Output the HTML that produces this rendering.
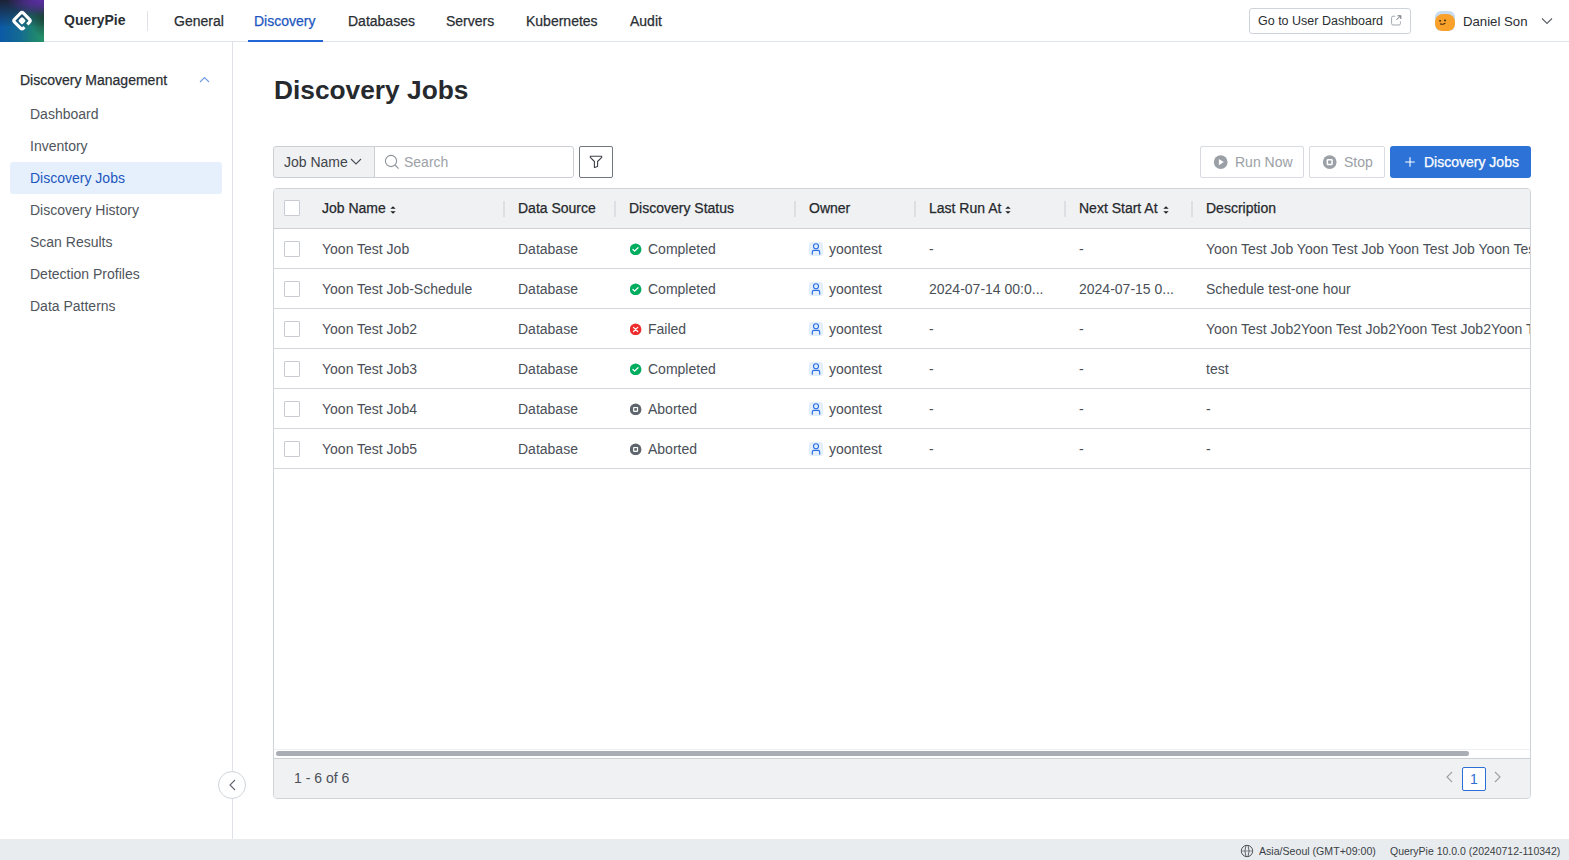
<!DOCTYPE html>
<html><head><meta charset="utf-8">
<style>
*{box-sizing:border-box;margin:0;padding:0}
html,body{width:1569px;height:860px;overflow:hidden;background:#fff;font-family:"Liberation Sans",sans-serif;font-size:14px;color:#2a2e33}
.abs{position:absolute}
.med{-webkit-text-stroke:0.25px currentColor}
#hdr{position:absolute;left:0;top:0;width:1569px;height:42px;border-bottom:1px solid #dfe4ea;background:#fff}
#logo{position:absolute;left:0;top:0;width:44px;height:42px;overflow:hidden;
 background:
  radial-gradient(ellipse 34px 16px at 40px 0px, rgba(92,46,165,1) 0%, rgba(92,46,165,0.7) 40%, rgba(92,46,165,0) 100%),
  radial-gradient(ellipse 16px 18px at 46px 20px, rgba(22,28,34,0.6) 0%, rgba(22,28,34,0) 100%),
  linear-gradient(to bottom, rgba(30,30,48,0.95) 0%, rgba(30,30,48,0.45) 35%, rgba(30,30,48,0) 65%),
  linear-gradient(to right, #0b59a6 0%, #136a92 45%, #1d8274 75%, #249368 100%)}
.nav{position:absolute;top:1px;height:41px;line-height:41px;font-size:14px;color:#2a2e33}
.nav.on{color:#1c57bf}
#uline{position:absolute;left:248px;top:40px;width:75px;height:2px;background:#2266d6}
#side{position:absolute;left:0;top:42px;width:233px;height:797px;border-right:1px solid #dfe3e8;background:#fff}
.si{position:absolute;left:10px;width:212px;height:32px;line-height:32px;padding-left:20px;color:#4f555c;border-radius:3px}
.si.on{background:#e6f0fc;color:#1c57bf}
#foot{position:absolute;left:0;top:839px;width:1569px;height:21px;background:#e9ecef;font-size:10.5px;color:#3a3f45}

.tbtn{position:absolute;top:146px;height:32px;border:1px solid #d8dbe0;border-radius:2px;background:#fff;color:#9ba0a6;line-height:30px}
#tbl{position:absolute;left:273px;top:188px;width:1258px;height:611px;border:1px solid #cfd4da;border-radius:4px;overflow:hidden;background:#fff}
#thead{position:absolute;left:0;top:0;width:1256px;height:40px;background:#f0f1f3;border-bottom:1px solid #cdd1d6}
.th{position:absolute;top:0;height:39px;line-height:39px;color:#26292d;white-space:nowrap}
.dv{position:absolute;top:12px;width:2px;height:16px;background:#dcdfe3}
.cb{position:absolute;left:10px;width:16px;height:16px;border:1px solid #c9cdd3;border-radius:1px;background:#fff}
.row{position:absolute;left:0;width:1256px;height:40px;border-bottom:1px solid #d5d9de}
.td{position:absolute;top:1px;height:39px;line-height:39px;color:#4a4f57;white-space:nowrap}
.sort{position:absolute;top:17px;width:6px;height:8px}
.st{position:absolute;top:14px;width:12px;height:12px}
.ow{position:absolute;left:535px;top:13px;width:14px;height:14px;border-radius:3px;background:#e3effd}
#tfoot{position:absolute;left:0;top:569px;width:1256px;height:40px;background:#f0f1f3;border-top:1px solid #cdd1d6}
</style></head>
<body>
<div id="hdr">
  <div id="logo">
    <svg width="44" height="41" viewBox="0 0 44 41" style="position:absolute;left:0;top:0"><g transform="rotate(45 22 20.7)"><path d="M28.3 19.5 L28.3 16.4 Q28.3 14.4 26.3 14.4 L17.7 14.4 Q15.7 14.4 15.7 16.4 L15.7 25 Q15.7 27 17.7 27 L26.3 27 Q28.3 27 28.3 25 L28.3 23.5" fill="none" stroke="#fff" stroke-width="3.1"/><rect x="19.15" y="17.85" width="5.7" height="5.7" rx="1.5" fill="#fff"/></g></svg>
  </div>
  <div class="abs" style="left:64px;top:0;height:41px;line-height:41px;font-weight:700;font-size:14px;color:#2a2e33">QueryPie</div>
  <div class="abs" style="left:147px;top:11px;width:1px;height:20px;background:#dfe3e8"></div>
  <div class="nav med" style="left:174px">General</div>
  <div class="nav on med" style="left:254px">Discovery</div>
  <div class="nav med" style="left:348px">Databases</div>
  <div class="nav med" style="left:446px">Servers</div>
  <div class="nav med" style="left:526px">Kubernetes</div>
  <div class="nav med" style="left:630px">Audit</div>
  <div id="uline"></div>

  <div class="abs" style="left:1249px;top:8px;width:162px;height:26px;border:1px solid #cfd4da;border-radius:3px;background:#fff"></div>
  <div class="abs" style="left:1258px;top:8px;height:26px;line-height:26px;font-size:12.5px;color:#2a2e33">Go to User Dashboard</div>
  <svg class="abs" style="left:1391px;top:15px" width="11" height="11" viewBox="0 0 11 11"><path d="M4.2 1.2 L2 1.2 Q0.6 1.2 0.6 2.6 L0.6 8.6 Q0.6 10 2 10 L8 10 Q9.4 10 9.4 8.6 L9.4 6.4" fill="none" stroke="#a3a8ae" stroke-width="1"/><path d="M5.6 4.8 L9.6 0.8 M6.6 0.8 L9.8 0.8 L9.8 4" fill="none" stroke="#6a7077" stroke-width="1"/></svg>
  <div class="abs" style="left:1435px;top:11px;width:20px;height:20px;border-radius:6px;background:#c8dcef;overflow:hidden"><div style="position:absolute;left:0;top:3px;width:20px;height:17px;border-radius:8px 8px 7px 7px;background:#f9a12a"></div>
  <svg style="position:absolute;left:0;top:0" width="20" height="20" viewBox="0 0 20 20"><circle cx="5.1" cy="9.8" r="0.9" fill="#2a1a0a"/><circle cx="10" cy="9.4" r="0.9" fill="#2a1a0a"/><path d="M5 12.9 Q7.5 14 10.4 12.4" fill="none" stroke="#2a1a0a" stroke-width="1"/></svg></div>
  <div class="abs" style="left:1463px;top:1px;height:41px;line-height:41px;font-size:13.2px;color:#2a2e33">Daniel Son</div>
  <svg class="abs" style="left:1541px;top:17px" width="12" height="8" viewBox="0 0 12 8"><path d="M1 1.5 L6 6.5 L11 1.5" fill="none" stroke="#5a6068" stroke-width="1.1"/></svg>
</div>

<div id="side">
  <div class="abs med" style="left:20px;top:26px;height:24px;line-height:24px;color:#2a2e33">Discovery Management</div>
  <svg class="abs" style="left:199px;top:34px" width="11" height="7" viewBox="0 0 11 7"><path d="M1 6 L5.5 1.5 L10 6" fill="none" stroke="#6d9de6" stroke-width="1.1"/></svg>
  <div class="si" style="top:56px">Dashboard</div>
  <div class="si" style="top:88px">Inventory</div>
  <div class="si on" style="top:120px">Discovery Jobs</div>
  <div class="si" style="top:152px">Discovery History</div>
  <div class="si" style="top:184px">Scan Results</div>
  <div class="si" style="top:216px">Detection Profiles</div>
  <div class="si" style="top:248px">Data Patterns</div>
</div>

<div class="abs" style="left:274px;top:70px;height:40px;line-height:40px;font-size:26.3px;font-weight:700;color:#26292d">Discovery Jobs</div>


<div class="abs" style="left:273px;top:146px;width:102px;height:32px;border:1px solid #cbcfd5;border-radius:3px 0 0 3px;background:#f0f1f3"></div>
<div class="abs" style="left:284px;top:146px;height:32px;line-height:32px;color:#3f444a">Job Name</div>
<svg class="abs" style="left:350px;top:157px" width="12" height="8" viewBox="0 0 12 8"><path d="M1 2 L6 7 L11 2" fill="none" stroke="#4a4f55" stroke-width="1.1"/></svg>
<div class="abs" style="left:374px;top:146px;width:200px;height:32px;border:1px solid #cbcfd5;border-radius:0 3px 3px 0;background:#fff"></div>
<svg class="abs" style="left:384px;top:154px" width="16" height="16" viewBox="0 0 16 16"><circle cx="7" cy="7" r="5.6" fill="none" stroke="#8d939a" stroke-width="1.1"/><path d="M11 11 L14.6 14.6" stroke="#8d939a" stroke-width="1.1"/></svg>
<div class="abs" style="left:404px;top:146px;height:32px;line-height:32px;color:#9ca1a7">Search</div>
<div class="abs" style="left:579px;top:146px;width:34px;height:32px;border:1px solid #6f767d;border-radius:2px;background:#fff"></div>
<svg class="abs" style="left:589px;top:155px" width="14" height="14" viewBox="0 0 14 14"><path d="M1.3 1.3 L12.7 1.3 L12.7 2.4 L8.6 6.5 L8.6 11.6 L5.4 12.6 L5.4 6.5 L1.3 2.4 Z" fill="none" stroke="#3c4147" stroke-width="1.1" stroke-linejoin="round"/></svg>

<div class="tbtn" style="left:1200px;width:104px"></div>
<svg class="abs" style="left:1213px;top:155px" width="15" height="14" viewBox="0 0 15 14"><circle cx="7.7" cy="7.1" r="6.9" fill="#9ba0a6"/><path d="M5.9 3.9 L10.8 7.1 L5.9 10.3 Z" fill="#fff"/></svg>
<div class="abs" style="left:1235px;top:146px;height:32px;line-height:32px;color:#9ba0a6">Run Now</div>
<div class="tbtn" style="left:1309px;width:76px"></div>
<svg class="abs" style="left:1322px;top:155px" width="15" height="14" viewBox="0 0 15 14"><circle cx="7.7" cy="7.1" r="6.9" fill="#9ba0a6"/><rect x="4.6" y="4.0" width="6.2" height="6.2" rx="1.3" fill="#fff"/><rect x="6.1" y="5.5" width="3.2" height="3.2" fill="#9ba0a6"/></svg>
<div class="abs" style="left:1344px;top:146px;height:32px;line-height:32px;color:#9ba0a6">Stop</div>
<div class="abs" style="left:1390px;top:146px;width:141px;height:32px;border-radius:3px;background:#2d73d7"></div>
<svg class="abs" style="left:1404px;top:156px" width="12" height="12" viewBox="0 0 12 12"><path d="M6 1.2 L6 10.8 M1.2 6 L10.8 6" stroke="#fff" stroke-width="1.1"/></svg>
<div class="abs med" style="left:1424px;top:146px;height:32px;line-height:32px;color:#fff">Discovery Jobs</div>

<div id="tbl">
 <div id="thead">
  <div class="cb" style="top:11px"></div>
  <div class="th med" style="left:48px">Job Name</div><svg class="sort" style="left:116px" viewBox="0 0 6 8"><path d="M0.3 2.8 L3 0.2 L5.7 2.8 Z M0.3 5.2 L3 7.8 L5.7 5.2 Z" fill="#1f2226"/></svg>
  <div class="dv" style="left:229px"></div>
  <div class="th med" style="left:244px">Data Source</div>
  <div class="dv" style="left:340px"></div>
  <div class="th med" style="left:355px">Discovery Status</div>
  <div class="dv" style="left:520px"></div>
  <div class="th med" style="left:535px">Owner</div>
  <div class="dv" style="left:640px"></div>
  <div class="th med" style="left:655px">Last Run At</div><svg class="sort" style="left:731px" viewBox="0 0 6 8"><path d="M0.3 2.8 L3 0.2 L5.7 2.8 Z M0.3 5.2 L3 7.8 L5.7 5.2 Z" fill="#1f2226"/></svg>
  <div class="dv" style="left:790px"></div>
  <div class="th med" style="left:805px">Next Start At</div><svg class="sort" style="left:889px" viewBox="0 0 6 8"><path d="M0.3 2.8 L3 0.2 L5.7 2.8 Z M0.3 5.2 L3 7.8 L5.7 5.2 Z" fill="#1f2226"/></svg>
  <div class="dv" style="left:917px"></div>
  <div class="th med" style="left:932px">Description</div>
 </div>
  <div class="row" style="top:40px">
  <div class="cb" style="top:12px"></div>
  <div class="td" style="left:48px">Yoon Test Job</div>
  <div class="td" style="left:244px">Database</div>
  <svg class="st" style="left:356px" viewBox="0.4 -0.4 12 12"><circle cx="6" cy="6" r="5.8" fill="#00ad5f"/><path d="M3.4 6.1 L5 7.7 L8.4 4.3" fill="none" stroke="#fff" stroke-width="1.3" stroke-linecap="round" stroke-linejoin="round"/></svg><div class="td" style="left:374px">Completed</div>
  <div class="ow"><svg width="14" height="14" viewBox="0 0 14 14" style="position:absolute;left:0;top:0"><circle cx="7" cy="4.3" r="2.5" fill="none" stroke="#2a6de0" stroke-width="1.1"/><path d="M3.2 12.6 L3.4 9.6 Q3.5 8.4 4.7 8.4 L9.3 8.4 Q10.5 8.4 10.6 9.6 L10.8 12.6" fill="none" stroke="#2a6de0" stroke-width="1.1"/></svg></div><div class="td" style="left:555px">yoontest</div>
  <div class="td" style="left:655px">-</div>
  <div class="td" style="left:805px">-</div>
  <div class="td" style="left:932px">Yoon Test Job Yoon Test Job Yoon Test Job Yoon Test Job Yoon Test Job</div>
 </div>
  <div class="row" style="top:80px">
  <div class="cb" style="top:12px"></div>
  <div class="td" style="left:48px">Yoon Test Job-Schedule</div>
  <div class="td" style="left:244px">Database</div>
  <svg class="st" style="left:356px" viewBox="0.4 -0.4 12 12"><circle cx="6" cy="6" r="5.8" fill="#00ad5f"/><path d="M3.4 6.1 L5 7.7 L8.4 4.3" fill="none" stroke="#fff" stroke-width="1.3" stroke-linecap="round" stroke-linejoin="round"/></svg><div class="td" style="left:374px">Completed</div>
  <div class="ow"><svg width="14" height="14" viewBox="0 0 14 14" style="position:absolute;left:0;top:0"><circle cx="7" cy="4.3" r="2.5" fill="none" stroke="#2a6de0" stroke-width="1.1"/><path d="M3.2 12.6 L3.4 9.6 Q3.5 8.4 4.7 8.4 L9.3 8.4 Q10.5 8.4 10.6 9.6 L10.8 12.6" fill="none" stroke="#2a6de0" stroke-width="1.1"/></svg></div><div class="td" style="left:555px">yoontest</div>
  <div class="td" style="left:655px">2024-07-14 00:0...</div>
  <div class="td" style="left:805px">2024-07-15 0...</div>
  <div class="td" style="left:932px">Schedule test-one hour</div>
 </div>
  <div class="row" style="top:120px">
  <div class="cb" style="top:12px"></div>
  <div class="td" style="left:48px">Yoon Test Job2</div>
  <div class="td" style="left:244px">Database</div>
  <svg class="st" style="left:356px" viewBox="0.4 -0.4 12 12"><circle cx="6" cy="6" r="5.8" fill="#ee2d2d"/><path d="M3.9 3.9 L8.1 8.1 M8.1 3.9 L3.9 8.1" fill="none" stroke="#fff" stroke-width="1.2" stroke-linecap="round"/></svg><div class="td" style="left:374px">Failed</div>
  <div class="ow"><svg width="14" height="14" viewBox="0 0 14 14" style="position:absolute;left:0;top:0"><circle cx="7" cy="4.3" r="2.5" fill="none" stroke="#2a6de0" stroke-width="1.1"/><path d="M3.2 12.6 L3.4 9.6 Q3.5 8.4 4.7 8.4 L9.3 8.4 Q10.5 8.4 10.6 9.6 L10.8 12.6" fill="none" stroke="#2a6de0" stroke-width="1.1"/></svg></div><div class="td" style="left:555px">yoontest</div>
  <div class="td" style="left:655px">-</div>
  <div class="td" style="left:805px">-</div>
  <div class="td" style="left:932px">Yoon Test Job2Yoon Test Job2Yoon Test Job2Yoon Test Job2</div>
 </div>
  <div class="row" style="top:160px">
  <div class="cb" style="top:12px"></div>
  <div class="td" style="left:48px">Yoon Test Job3</div>
  <div class="td" style="left:244px">Database</div>
  <svg class="st" style="left:356px" viewBox="0.4 -0.4 12 12"><circle cx="6" cy="6" r="5.8" fill="#00ad5f"/><path d="M3.4 6.1 L5 7.7 L8.4 4.3" fill="none" stroke="#fff" stroke-width="1.3" stroke-linecap="round" stroke-linejoin="round"/></svg><div class="td" style="left:374px">Completed</div>
  <div class="ow"><svg width="14" height="14" viewBox="0 0 14 14" style="position:absolute;left:0;top:0"><circle cx="7" cy="4.3" r="2.5" fill="none" stroke="#2a6de0" stroke-width="1.1"/><path d="M3.2 12.6 L3.4 9.6 Q3.5 8.4 4.7 8.4 L9.3 8.4 Q10.5 8.4 10.6 9.6 L10.8 12.6" fill="none" stroke="#2a6de0" stroke-width="1.1"/></svg></div><div class="td" style="left:555px">yoontest</div>
  <div class="td" style="left:655px">-</div>
  <div class="td" style="left:805px">-</div>
  <div class="td" style="left:932px">test</div>
 </div>
  <div class="row" style="top:200px">
  <div class="cb" style="top:12px"></div>
  <div class="td" style="left:48px">Yoon Test Job4</div>
  <div class="td" style="left:244px">Database</div>
  <svg class="st" style="left:356px" viewBox="0.4 -0.4 12 12"><circle cx="6" cy="6" r="5.8" fill="#5e656c"/><rect x="3.5" y="3.5" width="5" height="5" rx="0.8" fill="#fff"/><rect x="4.7" y="4.7" width="2.6" height="2.6" fill="#5e656c"/></svg><div class="td" style="left:374px">Aborted</div>
  <div class="ow"><svg width="14" height="14" viewBox="0 0 14 14" style="position:absolute;left:0;top:0"><circle cx="7" cy="4.3" r="2.5" fill="none" stroke="#2a6de0" stroke-width="1.1"/><path d="M3.2 12.6 L3.4 9.6 Q3.5 8.4 4.7 8.4 L9.3 8.4 Q10.5 8.4 10.6 9.6 L10.8 12.6" fill="none" stroke="#2a6de0" stroke-width="1.1"/></svg></div><div class="td" style="left:555px">yoontest</div>
  <div class="td" style="left:655px">-</div>
  <div class="td" style="left:805px">-</div>
  <div class="td" style="left:932px">-</div>
 </div>
  <div class="row" style="top:240px">
  <div class="cb" style="top:12px"></div>
  <div class="td" style="left:48px">Yoon Test Job5</div>
  <div class="td" style="left:244px">Database</div>
  <svg class="st" style="left:356px" viewBox="0.4 -0.4 12 12"><circle cx="6" cy="6" r="5.8" fill="#5e656c"/><rect x="3.5" y="3.5" width="5" height="5" rx="0.8" fill="#fff"/><rect x="4.7" y="4.7" width="2.6" height="2.6" fill="#5e656c"/></svg><div class="td" style="left:374px">Aborted</div>
  <div class="ow"><svg width="14" height="14" viewBox="0 0 14 14" style="position:absolute;left:0;top:0"><circle cx="7" cy="4.3" r="2.5" fill="none" stroke="#2a6de0" stroke-width="1.1"/><path d="M3.2 12.6 L3.4 9.6 Q3.5 8.4 4.7 8.4 L9.3 8.4 Q10.5 8.4 10.6 9.6 L10.8 12.6" fill="none" stroke="#2a6de0" stroke-width="1.1"/></svg></div><div class="td" style="left:555px">yoontest</div>
  <div class="td" style="left:655px">-</div>
  <div class="td" style="left:805px">-</div>
  <div class="td" style="left:932px">-</div>
 </div>

 <div class="abs" style="left:0;top:560px;width:1256px;height:1px;background:#eef0f2"></div>
 <div class="abs" style="left:2px;top:562px;width:1193px;height:5px;border-radius:3px;background:#a9aeb4"></div>
 <div id="tfoot">
  <div class="abs" style="left:20px;top:0;height:39px;line-height:39px;color:#4a4f57">1 - 6 of 6</div>
  <svg class="abs" style="left:1170px;top:11px" width="10" height="14" viewBox="0 0 10 14"><path d="M8 2 L3 7 L8 12" fill="none" stroke="#9ba0a6" stroke-width="1.1"/></svg>
  <div class="abs" style="left:1188px;top:8px;width:24px;height:24px;border:1px solid #2d6fd6;border-radius:2px;background:#fff;color:#2d6fd6;text-align:center;line-height:22px">1</div>
  <svg class="abs" style="left:1219px;top:11px" width="10" height="14" viewBox="0 0 10 14"><path d="M2 2 L7 7 L2 12" fill="none" stroke="#9ba0a6" stroke-width="1.1"/></svg>
 </div>
</div>

<div class="abs" style="left:218px;top:771px;width:28px;height:28px;border-radius:50%;border:1px solid #cfd4da;background:#fff"></div>
<svg class="abs" style="left:226px;top:778px" width="14" height="14" viewBox="0 0 14 14"><path d="M9 2 L4 7 L9 12" fill="none" stroke="#5f656c" stroke-width="1.1"/></svg>

<div id="foot">
  <svg class="abs" style="left:1240px;top:5px" width="14" height="14" viewBox="0 0 14 14"><circle cx="7" cy="7" r="5.7" fill="none" stroke="#50555b" stroke-width="1"/><path d="M1.3 7 L12.7 7" stroke="#7a8086" stroke-width="0.9"/><path d="M6 1.4 Q3.8 7 6 12.6 M8 1.4 Q10.2 7 8 12.6" fill="none" stroke="#50555b" stroke-width="0.9"/></svg>
  <div class="abs" style="left:1259px;top:2px;height:21px;line-height:21px;font-size:10.6px">Asia/Seoul (GMT+09:00)</div>
  <div class="abs" style="left:1390px;top:2px;height:21px;line-height:21px">QueryPie 10.0.0 (20240712-110342)</div>
</div>
</body></html>
